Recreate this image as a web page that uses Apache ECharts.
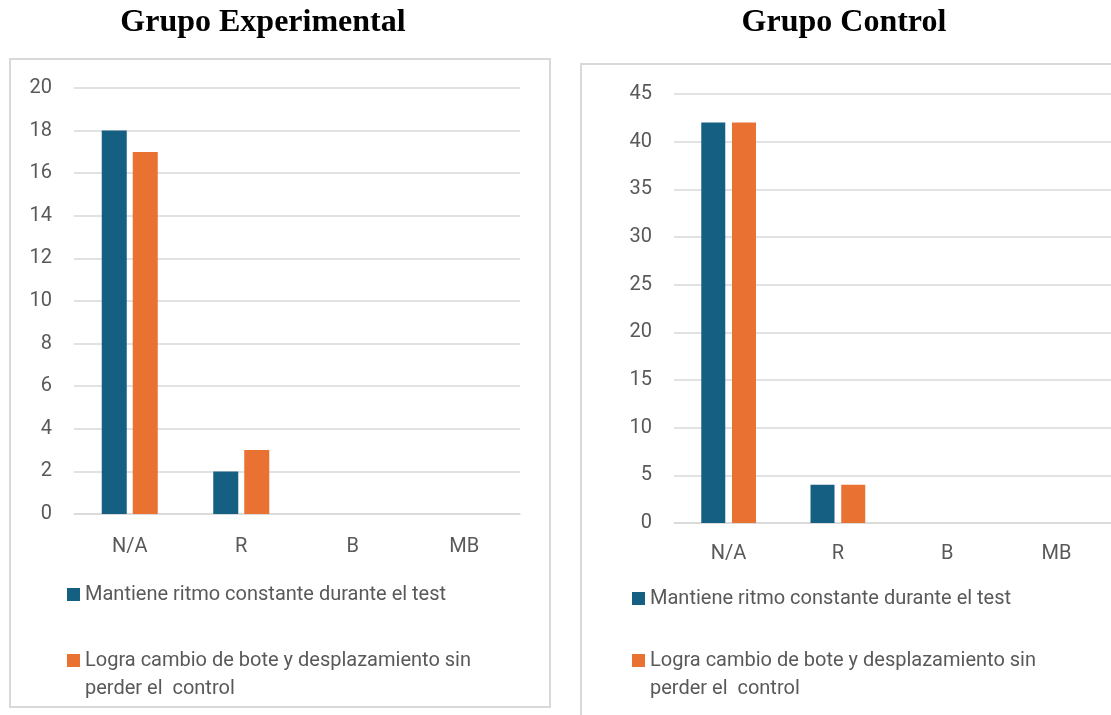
<!DOCTYPE html>
<html>
<head>
<meta charset="utf-8">
<script src="https://cdn.jsdelivr.net/npm/echarts@6/dist/echarts.min.js"></script>
<style>
  html, body { margin: 0; padding: 0; background: #fff; }
  #chart { width: 1111px; height: 715px; }
</style>
</head>
<body>
<div id="chart"></div>
<script>
// categorias y datos
var categorias = ['N/A', 'R', 'B', 'MB'];
var serie1 = 'Mantiene ritmo constante durante el test';
var serie2 = 'Logra cambio de bote y desplazamiento sin perder el  control';
var expRitmo = [18, 2, 0, 0];
var expCambio = [17, 3, 0, 0];
var ctrlRitmo = [42, 4, 0, 0];
var ctrlCambio = [42, 4, 0, 0];

var azul = '#156082';
var naranja = '#E97132';
var gris = '#595959';
var fuente = 'Roboto, "Liberation Sans", sans-serif';

function ejeX(idx, margen) {
    return {
        type: 'category', gridIndex: idx, data: categorias,
        axisLine: { lineStyle: { color: '#d9d9d9', width: 1.5 } },
        axisTick: { show: false },
        axisLabel: { color: gris, fontSize: 20, fontFamily: fuente, margin: margen }
    };
}
function ejeY(idx, max, paso) {
    return {
        type: 'value', gridIndex: idx, min: 0, max: max, interval: paso,
        axisLine: { show: false }, axisTick: { show: false },
        splitLine: { lineStyle: { color: '#d9d9d9', width: 1.5 } },
        axisLabel: { color: gris, fontSize: 20, fontFamily: fuente, margin: 22 }
    };
}
// una leyenda por serie, para colocar cada una
function leyenda(x, y, nombre) {
    return {
        left: x, top: y, padding: 0,
        icon: 'rect', itemWidth: 13, itemHeight: 13,
        textStyle: { color: gris, fontSize: 20, fontFamily: fuente, lineHeight: 28 },
        formatter: function (n) {
            // linea vacia delante para que el cuadro quede con la primera linea
            return n === serie2 ? '\nLogra cambio de bote y desplazamiento sin\nperder el  control' : n;
        },
        data: [nombre]
    };
}

var myChart = echarts.init(document.getElementById('chart'));
var option = {
    animation: false,
    color: [azul, naranja],
    grid: [
        { left: 74, top: 88, width: 446, height: 426 },
        { left: 674, top: 94, width: 440, height: 429 }
    ],
    xAxis: [ejeX(0, 23), ejeX(1, 21)],
    yAxis: [ejeY(0, 20, 2), ejeY(1, 45, 5)],
    legend: [
        leyenda(67, 580.5, serie1), leyenda(67, 618.5, serie2),
        leyenda(632, 584.5, serie1), leyenda(632, 618.5, serie2)
    ],
    series: [
        { name: serie1, type: 'bar', xAxisIndex: 0, yAxisIndex: 0, data: expRitmo, barWidth: 25, barGap: '24%' },
        { name: serie2, type: 'bar', xAxisIndex: 0, yAxisIndex: 0, data: expCambio, barWidth: 25, barGap: '24%' },
        { name: serie1, type: 'bar', xAxisIndex: 1, yAxisIndex: 1, data: ctrlRitmo, barWidth: 24, barGap: '28%' },
        { name: serie2, type: 'bar', xAxisIndex: 1, yAxisIndex: 1, data: ctrlCambio, barWidth: 24, barGap: '28%' }
    ],
    graphic: [
        { type: 'rect', shape: { x: 10, y: 59, width: 540, height: 648 }, style: { fill: 'none', stroke: '#d9d9d9', lineWidth: 2 }, z: -1 },
        { type: 'rect', shape: { x: 581, y: 64, width: 600, height: 700 }, style: { fill: 'none', stroke: '#d9d9d9', lineWidth: 2 }, z: -1 },
        { type: 'text', x: 263, y: 23, style: { text: 'Grupo Experimental', font: 'bold 32px "Liberation Serif", "Times New Roman", serif', fill: '#000', textAlign: 'center', textVerticalAlign: 'middle' } },
        { type: 'text', x: 844, y: 23, style: { text: 'Grupo Control', font: 'bold 32px "Liberation Serif", "Times New Roman", serif', fill: '#000', textAlign: 'center', textVerticalAlign: 'middle' } }
    ]
};
myChart.setOption(option);
</script>
</body>
</html>
